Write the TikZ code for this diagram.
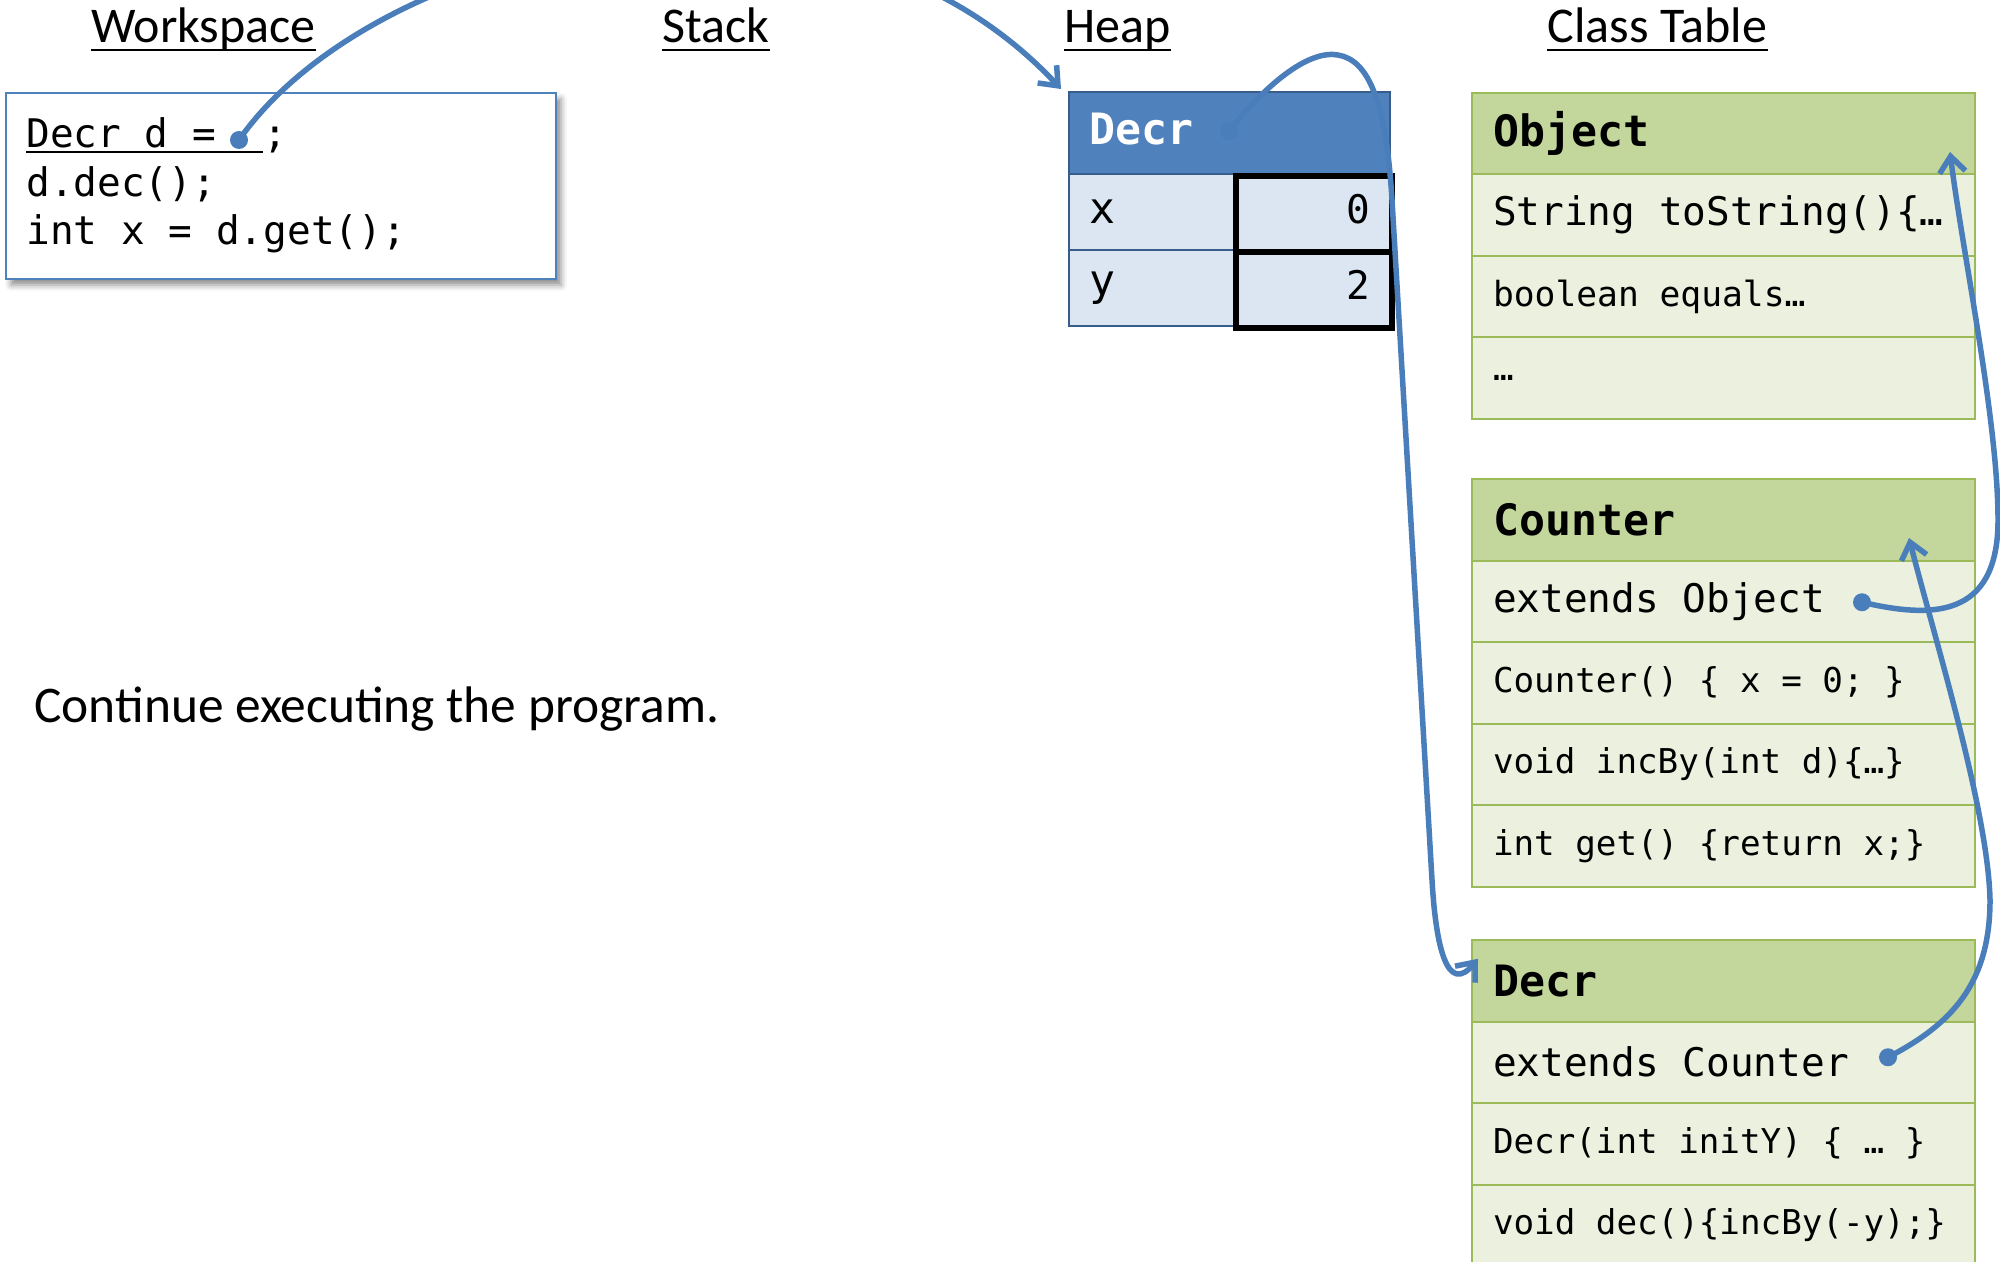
\documentclass[tikz,border=0pt]{standalone}
\usepackage{fontspec}
\setmainfont{Carlito}
\newfontfamily\codefont{DejaVu Sans Mono}
\usetikzlibrary{arrows.meta,shadows.blur,calc}

\definecolor{linkblue}{RGB}{74,126,187}
\definecolor{heapblue}{RGB}{79,129,189}
\definecolor{heapedge}{RGB}{56,93,138}
\definecolor{heapcell}{RGB}{220,230,242}
\definecolor{ctHead}{RGB}{195,214,155}
\definecolor{ctRow}{RGB}{235,241,222}
\definecolor{ctEdge}{RGB}{155,187,89}

\begin{document}
\begin{tikzpicture}[x=0.5pt,y=-0.5pt,
  ttl/.style={font=\fontsize{25}{30}\selectfont, anchor=base, inner sep=0pt},
  uline/.style={line width=1pt},
  codeline/.style={font=\codefont\fontsize{19.7}{24}\selectfont, anchor=base west, inner sep=0pt},
  wsbox/.style={draw=heapblue, line width=1pt, fill=white, minimum width=275pt,
    minimum height=93pt, anchor=north west, inner sep=0pt,
    blur shadow={shadow xshift=2.5pt, shadow yshift=-3pt, shadow blur radius=3pt, shadow opacity=45}},
  heaphead/.style={draw=heapedge, line width=1pt, fill=heapblue, text=white,
    font=\codefont\bfseries\fontsize{21.6}{26}\selectfont, minimum width=160.5pt,
    text width=140.5pt, inner xsep=10pt, inner ysep=0pt, minimum height=41pt,
    text depth=4pt, align=flush left, anchor=north west},
  heapkey/.style={draw=heapedge, line width=1pt, fill=heapcell,
    font=\codefont\fontsize{21.6}{26}\selectfont, minimum width=82.5pt,
    text width=62.5pt, inner xsep=10pt, inner ysep=0pt, minimum height=38pt,
    align=flush left, anchor=north west},
  heapval/.style={draw=black, line width=3pt, fill=heapcell,
    font=\codefont\fontsize{19.7}{24}\selectfont, minimum width=78pt,
    text width=56pt, inner xsep=11pt, inner ysep=0pt, minimum height=38pt,
    text depth=5pt, align=flush right, anchor=north west},
  cthead/.style={draw=ctEdge, line width=1pt, fill=ctHead,
    font=\codefont\bfseries\fontsize{21.6}{26}\selectfont, minimum width=251.5pt,
    text width=230.5pt, inner xsep=10.5pt, inner ysep=0pt, minimum height=40.75pt,
    align=flush left, anchor=north west},
  ctrow/.style={cthead, fill=ctRow, font=\codefont\fontsize{17.1}{21}\selectfont},
  bigrow/.style={font=\codefont\fontsize{19.7}{24}\selectfont},
  refdot/.style={circle, fill=linkblue, minimum size=9pt, inner sep=0pt},
  ptr/.style={draw=linkblue, line width=2.75pt, -{Straight Barb[length=8pt,width=13pt]}}
]
\useasboundingbox (0,0) rectangle (2000,1262);
\clip (0,0) rectangle (2000,1262);

% column titles
\node[ttl] (twork)  at (203.5,43)  {Workspace};
\node[ttl] (tstack) at (716,43)    {Stack};
\node[ttl] (theap)  at (1117.5,43) {Heap};
\node[ttl] (tclass) at (1657.5,43) {Class Table};
\foreach \t in {twork,tstack,theap,tclass}
  \draw[uline] ($(\t.base west)+(0,7)$) -- ($(\t.base east)+(0,7)$);

% workspace
\node[wsbox] (ws) at (5,92) {};
\node[codeline] (code1) at (26,148) {Decr d = \hphantom{x};};
\node[codeline] (code2) at (26,197) {d.dec();};
\node[codeline] (code3) at (26,245) {int x = d.get();};
\draw[line width=1pt] ($(code1.base west)+(0,4)$) -- ++(237,0);
\node[refdot] (wsdot) at ($(code1.base west)+(213,-8)$) {};

% heap object
\node[heaphead] (hobj) at (1068,91) {Decr};
\node[heapkey] (hkx) at (1068,173) {x};
\node[heapkey] (hky) at (1068,249) {y};
\node[heapval] (hvx) at (1233,173) {0};
\node[heapval] (hvy) at (1233,249) {2};
\node[refdot] (hdot) at ($(hobj.east)+(-162,-2)$) {};

% class table: Object
\node[cthead] (objh) at (1471,92) {Object};
\node[ctrow, bigrow] (obj1) at (1471,173.5) {String toString()\{…};
\node[ctrow, font=\codefont\fontsize{17.3}{21}\selectfont] (obj2) at (1471,255) {boolean equals…};
\node[ctrow] (obj3) at (1471,336.5) {…};

% class table: Counter
\node[cthead] (cnth) at (1471,478) {Counter};
\node[ctrow, bigrow] (cnt1) at (1471,559.5) {extends Object};
\node[ctrow] (cnt2) at (1471,641) {Counter() \{ x = 0; \}};
\node[ctrow] (cnt3) at (1471,722.5) {void incBy(int d)\{…\}};
\node[ctrow] (cnt4) at (1471,804) {int get() \{return x;\}};
\node[refdot] (cntdot) at ($(cnt1.east)+(-114,1)$) {};

% class table: Decr
\node[cthead] (dech) at (1471,939) {Decr};
\node[ctrow, bigrow] (dec1) at (1471,1020.5) {extends Counter};
\node[ctrow] (dec2) at (1471,1102) {Decr(int initY) \{ … \}};
\node[ctrow] (dec3) at (1471,1183.5) {void dec()\{incBy(-y);\}};
\node[refdot] (decdot) at ($(dec1.east)+(-88,-5)$) {};

% prompt
\node[font=\fontsize{25.7}{31}\selectfont, anchor=base west, inner sep=0pt] (note) at (34,722)
  {Continue executing the program.};

% references
\draw[ptr] (wsdot.center) .. controls (371,-50) and (822,-167) .. ($(hobj.north west)+(-7,-2)$);
\draw[ptr] (hdot.center) .. controls (1270,80) and (1310,50) .. (1338,55)
  .. controls (1368,60) and (1386,100) .. (1392,200)
  .. controls (1399,320) and (1425,760) .. (1432,880)
  .. controls (1436,950) and (1448,995) .. ($(dech.west)+(7,-22)$);
\draw[ptr] (cntdot.center) .. controls (1930,618) and (1998,620) .. (1998,520)
  .. controls (1998,420) and (1962,250) .. ($(objh.south east)+(-26,-23.5)$);
\draw[ptr] (decdot.center) .. controls (1950,1025) and (1990,985) .. (1990,900)
  .. controls (1988,810) and (1935,640) .. ($(cnth.south east)+(-67,-23.5)$);
\end{tikzpicture}
\end{document}
